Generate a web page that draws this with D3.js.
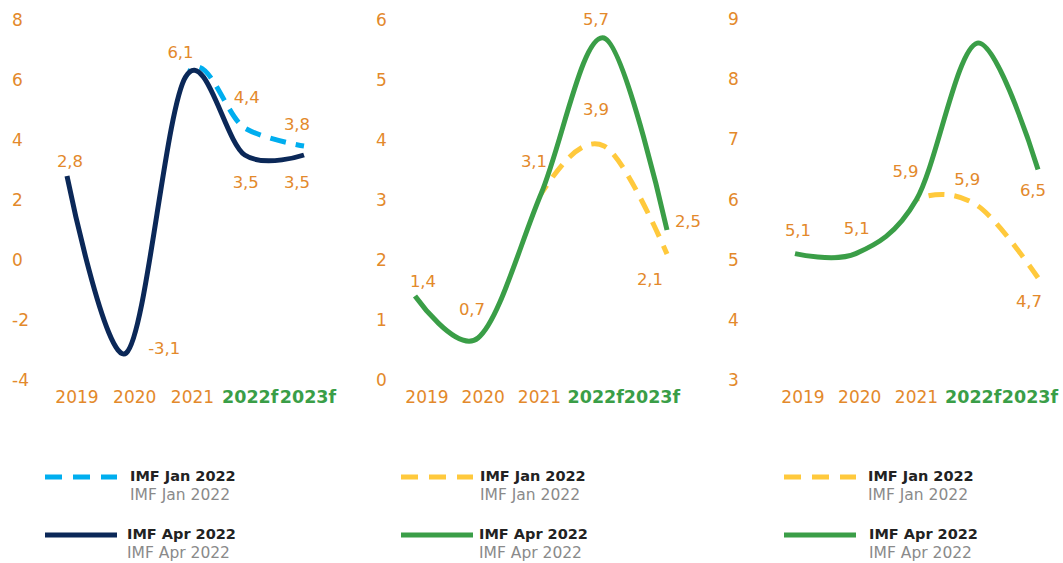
<!DOCTYPE html>
<html>
<head>
<meta charset="utf-8">
<script src="https://cdn.jsdelivr.net/npm/d3@7"></script>
<style>
  body { margin: 0; background: #fff; }
  svg text { font-family: "DejaVu Sans", sans-serif; }
</style>
</head>
<body>
<svg id="chart" width="1063" height="563"></svg>
<script>
// categories
var years = ["2019", "2020", "2021", "2022f", "2023f"];
var forecastYears = ["2022f", "2023f"];
var legendNames = ["IMF Jan 2022", "IMF Apr 2022"];

// panel 1
var p1Jan = [2.8, -3.1, 6.1, 4.4, 3.8];
var p1Apr = [2.8, -3.1, 6.1, 3.5, 3.5];
var p1JanLabels = [null, null, null, 4.4, 3.8];
var p1AprLabels = [2.8, -3.1, 6.1, 3.5, 3.5];
var p1Ticks = [-4, -2, 0, 2, 4, 6, 8];

// panel 2
var p2Jan = [1.4, 0.7, 3.1, 3.9, 2.1];
var p2Apr = [1.4, 0.7, 3.1, 5.7, 2.5];
var p2JanLabels = [null, null, null, 3.9, 2.1];
var p2AprLabels = [1.4, 0.7, 3.1, 5.7, 2.5];
var p2Ticks = [0, 1, 2, 3, 4, 5, 6];

// panel 3
var p3Jan = [5.1, 5.1, 6.0, 5.9, 4.7];
var p3Apr = [5.1, 5.1, 6.0, 8.6, 6.5];
var p3JanLabels = [null, null, null, 5.9, 4.7];
var p3AprLabels = [5.1, 5.1, 5.9, null, 6.5];
var p3Ticks = [3, 4, 5, 6, 7, 8, 9];

var orange = "#e3892b";
var green = "#3a9e47";

// comma decimal like the source
var fmt = d3.formatLocale({decimal: ",", thousands: ".", grouping: [3], currency: ["", ""], minus: "-"}).format(".1f");

var panels = [
  {jan: p1Jan, apr: p1Apr, janLab: p1JanLabels, aprLab: p1AprLabels, ticks: p1Ticks,
   x: [67, 304], lx: [77, 308], y: [380, 20], tickX: 12,
   janColor: "#00aeef", aprColor: "#0b2858",
   janOff: [null, null, null, [2, -25], [-7, -16]],
   aprOff: [[3, -9], [38, 1], [-5, -19], [1, 33], [-7, 33]],
   legend: {lineX: 45, textX: [130, 127]}},
  {jan: p2Jan, apr: p2Apr, janLab: p2JanLabels, aprLab: p2AprLabels, ticks: p2Ticks,
   x: [415, 667], lx: [427, 652], y: [380, 20], tickX: 376,
   janColor: "#ffc93c", aprColor: green,
   janOff: [null, null, null, [-8, -31], [-17, 31]],
   aprOff: [[8, -9], [-6, -23], [-7, -27], [-8, -13], [21, -3]],
   legend: {lineX: 401, textX: [480, 479]}},
  {jan: p3Jan, apr: p3Apr, janLab: p3JanLabels, aprLab: p3AprLabels, ticks: p3Ticks,
   x: [795, 1038], lx: [803, 1030], y: [380, 19], tickX: 728,
   janColor: "#ffc93c", aprColor: green,
   janOff: [null, null, null, [-10, -21], [-9, 29]],
   aprOff: [[3, -18], [1, -20], [-11, -23], null, [-5, 27]],
   legend: {lineX: 784, textX: [868, 869]}}
];

var svg = d3.select("#chart");
var defs = svg.append("defs");

panels.forEach(function (p, k) {
  var x = d3.scalePoint().domain(years).range(p.x);
  var xl = d3.scalePoint().domain(years).range(p.lx);
  var y = d3.scaleLinear().domain(d3.extent(p.ticks)).range(p.y);
  var g = svg.append("g");

  // the Jan line only shows where it leaves the Apr one
  defs.append("clipPath").attr("id", "jan-clip-" + k)
    .append("rect")
    .attr("x", x("2021") + 2).attr("y", 0)
    .attr("width", 200).attr("height", 420);

  // y tick labels
  g.selectAll(".ytick").data(p.ticks).enter().append("text")
    .attr("x", p.tickX)
    .attr("y", function (d) { return y(d); })
    .attr("dy", "0.36em")
    .attr("fill", orange)
    .style("font-size", "17px")
    .text(function (d) { return d; });

  // x tick labels
  g.selectAll(".xtick").data(years).enter().append("text")
    .attr("x", function (d) { return xl(d); })
    .attr("y", 403)
    .attr("text-anchor", "middle")
    .attr("fill", function (d) { return forecastYears.indexOf(d) >= 0 ? green : orange; })
    .style("font-weight", function (d) { return forecastYears.indexOf(d) >= 0 ? "bold" : "normal"; })
    .style("font-size", function (d) { return forecastYears.indexOf(d) >= 0 ? "17.5px" : "17px"; })
    .text(function (d) { return d; });

  var line = d3.line()
    .x(function (d, i) { return x(years[i]); })
    .y(function (d) { return y(d); })
    .curve(d3.curveCardinal.tension(0));

  // Jan (dashed) under Apr (solid)
  g.append("path").datum(p.jan)
    .attr("d", line)
    .attr("clip-path", "url(#jan-clip-" + k + ")")
    .attr("fill", "none")
    .attr("stroke", p.janColor)
    .attr("stroke-width", 5)
    .attr("stroke-dasharray", "16,10");

  g.append("path").datum(p.apr)
    .attr("d", line)
    .attr("fill", "none")
    .attr("stroke", p.aprColor)
    .attr("stroke-width", 5);

  // data labels
  function addLabels(vals, labs, offs) {
    labs.forEach(function (v, i) {
      if (v === null || !offs[i]) return;
      g.append("text")
        .attr("x", x(years[i]) + offs[i][0])
        .attr("y", y(vals[i]) + offs[i][1])
        .attr("text-anchor", "middle")
        .attr("fill", orange)
        .style("font-size", "16.5px")
        .text(fmt(v));
    });
  }
  addLabels(p.apr, p.aprLab, p.aprOff);
  addLabels(p.jan, p.janLab, p.janOff);

  // legend
  var rows = [
    {name: legendNames[0], color: p.janColor, dash: "17,11", ly: 477, by: 481, gy: 500, tx: p.legend.textX[0]},
    {name: legendNames[1], color: p.aprColor, dash: null, ly: 535, by: 539, gy: 558, tx: p.legend.textX[1]}
  ];
  rows.forEach(function (r) {
    g.append("line")
      .attr("x1", p.legend.lineX).attr("x2", p.legend.lineX + 72)
      .attr("y1", r.ly).attr("y2", r.ly)
      .attr("stroke", r.color)
      .attr("stroke-width", 5)
      .attr("stroke-dasharray", r.dash);
    g.append("text")
      .attr("x", r.tx).attr("y", r.by)
      .attr("fill", "#222")
      .style("font-weight", "bold")
      .style("font-size", "14.5px")
      .text(r.name);
    g.append("text")
      .attr("x", r.tx).attr("y", r.gy)
      .attr("fill", "#8a8a8a")
      .style("font-size", "15.5px")
      .text(r.name);
  });
});
</script>
</body>
</html>
